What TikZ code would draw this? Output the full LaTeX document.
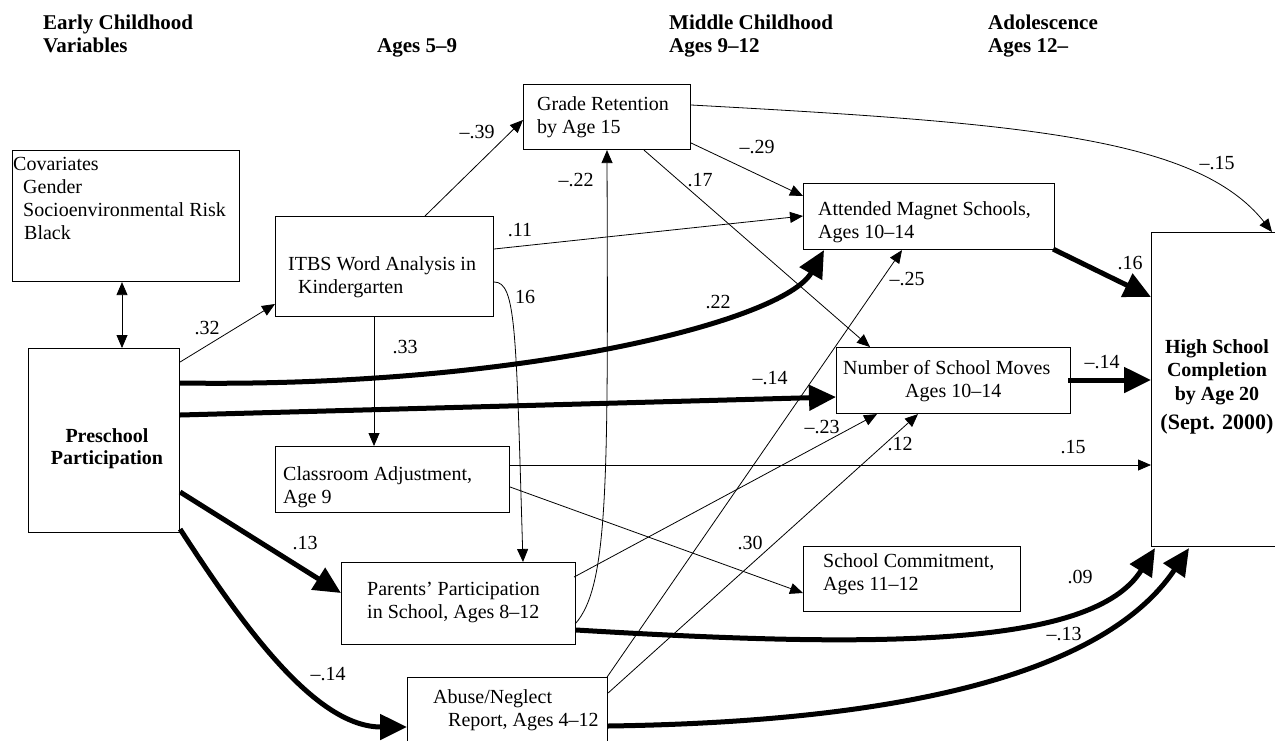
\documentclass[tikz,border=0pt]{standalone}
\usepackage{fontspec}
\setmainfont{Liberation Serif}
\usetikzlibrary{arrows.meta,calc}
\begin{document}
\begin{tikzpicture}[x=1pt,y=-1pt,
  box/.style={draw,line width=1.1pt,inner sep=0pt,anchor=north west},
  txt/.style={inner sep=0pt,anchor=north west,align=left,font=\fontsize{20}{23}\selectfont},
  head/.style={inner sep=0pt,anchor=north west,align=left,font=\fontsize{21}{23}\selectfont\bfseries},
  lab/.style={inner sep=0pt,font=\fontsize{20}{23}\selectfont},
  link/.style={line width=0.8pt,-{Triangle[length=13pt,width=11pt]}},
  twoway/.style={line width=0.8pt,{Triangle[length=13pt,width=11pt]}-{Triangle[length=13pt,width=11pt]}},
  heavy/.style={line width=5pt,-{Triangle[length=27pt,width=25pt]}},
]
\useasboundingbox (0,0) rectangle (1275,740);
\clip (0,0) rectangle (1275,740);

% period headings
\node[head] (h1) at (43,12.9) {\strut Early Childhood\\Variables};
\node[head] (h2) at (377,35.9) {\strut Ages 5–9};
\node[head] (h3) at (669,12.9) {\strut Middle Childhood\\Ages 9–12};
\node[head] (h4) at (988,12.9) {\strut Adolescence\\Ages 12–};

% variable boxes
\node[box,minimum width=227pt,minimum height=131pt] (cov) at (12,150) {};
\node[box,minimum width=151pt,minimum height=184pt] (pre) at (28,348) {};
\node[box,minimum width=218pt,minimum height=100pt] (itbs) at (275,216) {};
\node[box,minimum width=167pt,minimum height=65pt] (gr) at (523,84) {};
\node[box,minimum width=251pt,minimum height=66pt] (mag) at (803,183) {};
\node[box,minimum width=234pt,minimum height=66pt] (mov) at (836,347) {};
\node[box,minimum width=160pt,minimum height=314pt] (hsc) at (1151,232) {};
\node[box,minimum width=234pt,minimum height=66pt] (cls) at (275,446) {};
\node[box,minimum width=234pt,minimum height=82pt] (par) at (341,562) {};
\node[box,minimum width=200pt,minimum height=90pt] (abu) at (407,677) {};
\node[box,minimum width=217pt,minimum height=65pt] (com) at (803,546) {};

% box texts
\node[txt] (covt) at (13,153.9) {\strut Covariates\\\hspace*{10pt}Gender\\\hspace*{10pt}Socioenvironmental Risk\\\hspace*{11pt}Black};
\node[inner sep=0pt,anchor=north,align=center,font=\fontsize{20}{22}\selectfont\bfseries] (pret) at (107,426.6) {\strut Preschool\\Participation};
\node[txt] (itbst) at (288,253.9) {\strut ITBS Word Analysis in\\\hspace*{10pt}Kindergarten};
\node[txt] (grt) at (537,93.9) {\strut Grade Retention\\by Age 15};
\node[txt] (magt) at (818,198.9) {\strut Attended Magnet Schools,\\Ages 10–14};
\node[txt] (movt) at (843,357.9) {\strut Number of School Moves\\\hspace*{62pt}Ages 10–14};
\node[inner sep=0pt,anchor=north,align=center,font=\fontsize{20}{23.5}\selectfont\bfseries] (hsct) at (1217,336.5)
  {\strut High School\\Completion\\by Age 20\\[6pt]{\fontsize{22}{24}\selectfont (Sept. 2000)}};
\node[txt] (clst) at (283,463.9) {\strut Classroom Adjustment,\\Age 9};
\node[txt] (part) at (367,578.9) {\strut Parents’ Participation\\in School, Ages 8–12};
\node[txt] (abut) at (433,686.9) {\strut Abuse/Neglect\\\hspace*{15pt}Report, Ages 4–12};
\node[txt] (comt) at (823,550.9) {\strut School Commitment,\\Ages 11–12};

% thin paths
\draw[twoway] ($(cov.south west)+(110,0)$) -- ($(pre.north west)+(94,0)$);
\draw[link] ($(pre.north east)+(0,14)$) -- ($(itbs.north west)+(0,88)$);
\draw[link] ($(itbs.north west)+(150,0)$) -- ($(gr.north west)+(0,36)$);
\draw[link] ($(itbs.north east)+(0,33)$) -- ($(mag.north west)+(0,33)$);
\draw[link] ($(itbs.south west)+(99,0)$) -- ($(cls.north west)+(99,0)$);
\draw[link] ($(itbs.north east)+(0,66)$) .. controls +(22,0) and +(-7,-232) .. ($(par.north west)+(182,0)$);
\draw[link] ($(gr.north east)+(0,59)$) -- ($(mag.north west)+(0,13)$);
\draw[link] ($(gr.south west)+(121,0)$) -- ($(mov.north west)+(34,0)$);
\draw[link] ($(gr.north east)+(0,21)$) .. controls +(330,18) and +(-75,-95) .. ($(hsc.north west)+(121,0)$);
\draw[link] ($(par.north east)+(-1,62)$) .. controls +(34,-38) and +(1,330) .. ($(gr.south west)+(84,0)$);
\draw[link] ($(cls.north east)+(0,19)$) -- ($(hsc.north west)+(0,233)$);
\draw[link] ($(cls.north east)+(0,41)$) -- ($(com.north west)+(0,47)$);
\draw[link] ($(par.north east)+(-2,15)$) -- ($(mov.south west)+(41,0)$);
\draw[link] ($(abu.north east)+(-1,0)$) -- ($(mag.south west)+(99,0)$);
\draw[link] ($(abu.north east)+(0,16)$) -- ($(mov.south west)+(82,0)$);

% heavy paths
\draw[heavy] ($(pre.north east)+(0,35)$) .. controls +(341,5) and +(-40,71) .. ($(mag.south west)+(21,0)$);
\draw[heavy] ($(pre.north east)+(0,67)$) -- ($(mov.north west)+(0,50)$);
\draw[heavy] ($(mov.north east)+(-3,33)$) -- ($(hsc.north west)+(0,148)$);
\draw[heavy] ($(mag.south east)+(-2,-1)$) -- ($(hsc.north west)+(0,65)$);
\draw[heavy] ($(pre.north east)+(0,144)$) -- ($(par.north west)+(0,31)$);
\draw[heavy] ($(pre.south east)+(0,-4)$) .. controls +(66,102) and +(-90,0) .. ($(abu.north west)+(0,50)$);
\draw[heavy] ($(par.north east)+(0,68)$) .. controls +(300,18) and +(-62,100) .. ($(hsc.south west)+(4,1)$);
\draw[heavy] ($(abu.north east)+(0,49)$) .. controls +(360,-5) and +(-69,103) .. ($(hsc.south west)+(38,1)$);

% path coefficients
\node[lab] (l32) at (207,328) {.32};
\node[lab] (l39) at (477,132) {–.39};
\node[lab] (l11) at (520,230) {.11};
\node[lab] (l33) at (405,347) {.33};
\node[lab] (l16a) at (525,297) {16};
\node[lab] (l29) at (757,147) {–.29};
\node[lab] (l17) at (700,180) {.17};
\node[lab] (l22a) at (576,180) {–.22};
\node[lab] (l15a) at (1217,163) {–.15};
\node[lab] (l22b) at (718,302) {.22};
\node[lab] (l14a) at (770,378) {–.14};
\node[lab] (l14b) at (1102,362) {–.14};
\node[lab] (l16b) at (1130,263) {.16};
\node[lab] (l15b) at (1073,447) {.15};
\node[lab] (l30) at (750,543) {.30};
\node[lab] (l23) at (822,427) {–.23};
\node[lab] (l25) at (907,279) {–.25};
\node[lab] (l12) at (900,444) {.12};
\node[lab] (l13) at (305,543) {.13};
\node[lab] (l14c) at (328,674) {–.14};
\node[lab] (l09) at (1080,577) {.09};
\node[lab] (l13b) at (1064,634) {–.13};
\end{tikzpicture}
\end{document}
